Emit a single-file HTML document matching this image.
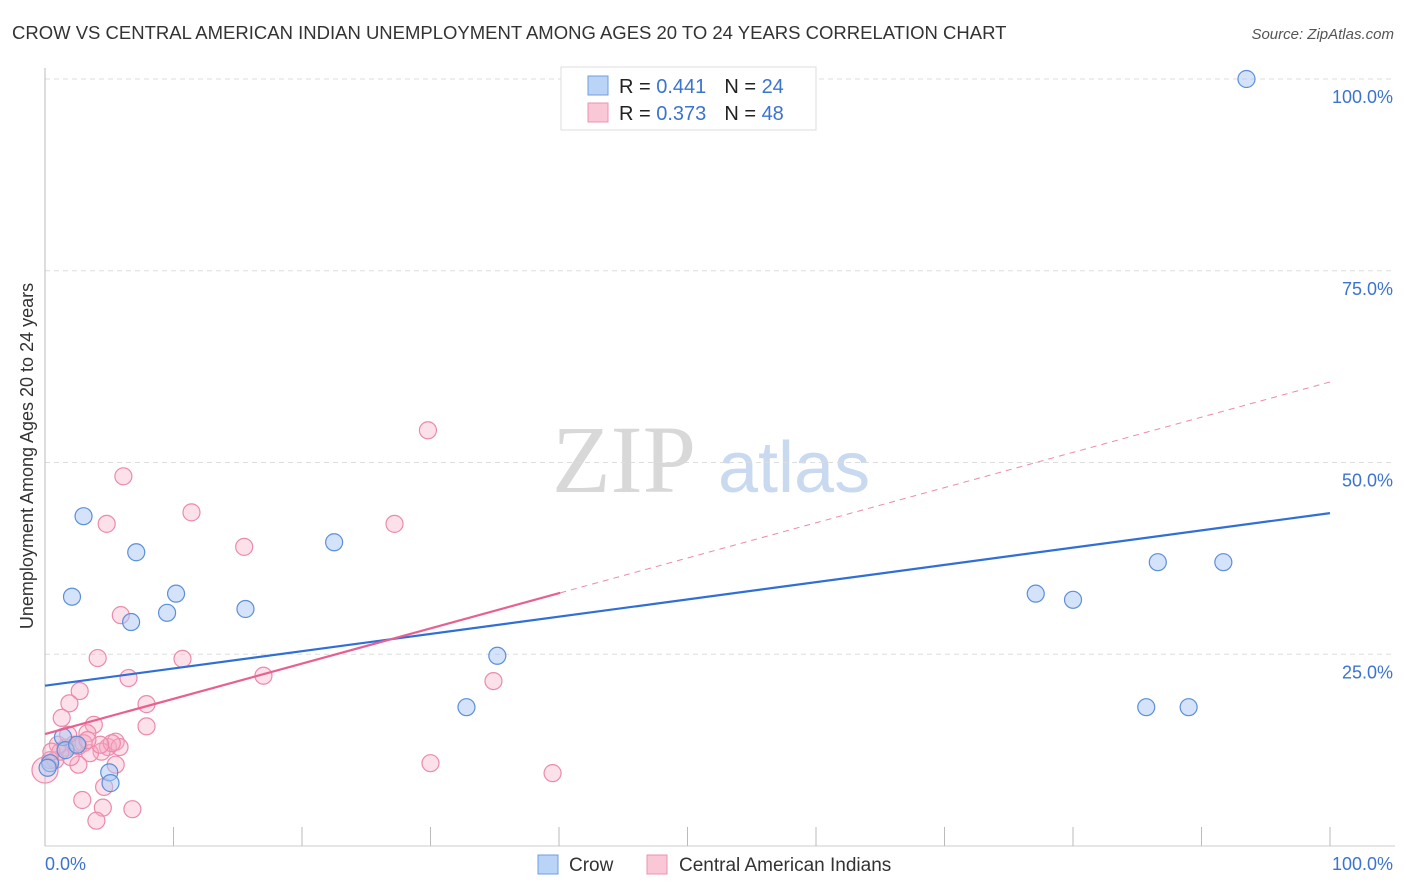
<!DOCTYPE html>
<html><head><meta charset="utf-8"><style>
body{margin:0;background:#fff;font-family:"Liberation Sans",sans-serif;}
svg{display:block}
</style></head><body>
<svg id="chart" width="1406" height="892" xmlns="http://www.w3.org/2000/svg" font-family="Liberation Sans, sans-serif">
<text x="12" y="39" font-size="18.5" fill="#333">CROW VS CENTRAL AMERICAN INDIAN UNEMPLOYMENT AMONG AGES 20 TO 24 YEARS CORRELATION CHART</text>
<text x="1394" y="39" font-size="15" fill="#555" font-style="italic" text-anchor="end">Source: ZipAtlas.com</text>
<g>
<text x="552" y="492" font-family="Liberation Serif, serif" font-size="96" fill="#d8d8d8">ZIP</text>
<text x="718" y="492" font-size="72" fill="#c9daf0">atlas</text>
</g>
<g id="grid"></g>
<g id="axes"></g>
<g id="points"></g>
<g id="trends"></g>
<text transform="translate(33,456) rotate(-90)" font-size="18" fill="#333" text-anchor="middle">Unemployment Among Ages 20 to 24 years</text>
<text x="45" y="870" font-size="18" fill="#3b73d1">0.0%</text>
<text x="1393" y="870" font-size="18" fill="#3b73d1" text-anchor="end">100.0%</text>
<g>
<rect x="561" y="67" width="255" height="63" fill="#fff" stroke="#ddd"/>
<rect x="588" y="76" width="20" height="19" fill="#b9d4f6" stroke="#6f9ee0"/>
<rect x="588" y="103" width="20" height="19" fill="#f9c7d6" stroke="#ec93b0"/>
<text x="619" y="93" font-size="20" fill="#222">R = <tspan fill="#3b73d1">0.441</tspan><tspan dx="18">N = </tspan><tspan fill="#3b73d1">24</tspan></text>
<text x="619" y="120" font-size="20" fill="#222">R = <tspan fill="#3b73d1">0.373</tspan><tspan dx="18">N = </tspan><tspan fill="#3b73d1">48</tspan></text>
</g>
<g>
<rect x="538" y="855" width="20" height="19" fill="#b9d4f6" stroke="#6f9ee0"/>
<text x="569" y="871" font-size="19" fill="#333">Crow</text>
<rect x="647" y="855" width="20" height="19" fill="#f9c7d6" stroke="#ec93b0"/>
<text x="679" y="871" font-size="19" fill="#333">Central American Indians</text>
</g>
</svg>
<script>
const crowX=[3.0,2.1,7.1,6.7,9.5,10.2,15.6,22.5,35.2,32.8,5.0,5.1,77.1,80.0,86.6,91.7,85.7,89.0,93.5,1.4,1.6,0.4,0.2,2.5];
const crowY=[43.0,32.5,38.3,29.2,30.4,32.9,30.9,39.6,24.8,18.1,9.6,8.2,32.9,32.1,37.0,37.0,18.1,18.1,100,14.2,12.5,10.8,10.2,13.2];
const caiX=[6.1,29.8,4.8,11.4,15.5,27.2,5.9,4.1,10.7,6.5,17.0,2.7,1.9,7.9,34.9,1.3,7.9,3.8,3.3,4.9,5.5,5.8,2.2,3.0,1.6,2.6,4.4,3.5,2.6,5.5,30.0,39.5,2.9,4.5,6.8,4.0,4.6,0.8,0.4,0.0,1.0,1.8,5.2,2.0,1.2,4.3,3.3,0.5];
const caiY=[48.2,54.2,42.0,43.5,39.0,42.0,30.1,24.5,24.4,21.9,22.2,20.2,18.6,18.5,21.5,16.7,15.6,15.8,14.7,12.9,13.6,12.9,13.2,13.4,12.8,13.0,12.3,12.1,10.6,10.6,10.8,9.5,6.0,5.0,4.8,3.3,7.7,11.2,11.2,9.9,13.2,14.5,13.4,11.6,12.3,13.2,13.8,12.3];
const yTicks=[25,50,75,100];
const yTickLabels=["25.0%","50.0%","75.0%","100.0%"];
const xTicks=[0,10,20,30,40,50,60,70,80,90,100];
const crowTrend=[20.9,43.4];
const caiTrend=[14.6,60.5];
const caiSolidEnd=40.1;

const NS="http://www.w3.org/2000/svg";
const X=v=>45+v*12.85;
const Y=v=>846-v*7.67;
function mk(tag,attrs,parent){const e=document.createElementNS(NS,tag);for(const k in attrs)e.setAttribute(k,attrs[k]);parent.appendChild(e);return e;}
const grid=document.getElementById('grid'),axes=document.getElementById('axes'),pts=document.getElementById('points'),tr=document.getElementById('trends');
yTicks.forEach((t,i)=>{
  const l=mk('line',{x1:45,x2:1395,y1:Y(t),y2:Y(t),stroke:'#ddd','stroke-dasharray':'5,4'},grid);
  
  
  const tx=mk('text',{x:1393,y:Y(t)+24,'font-size':18,fill:'#3b73d1','text-anchor':'end'},grid);
  tx.textContent=yTickLabels[i];
  
  
});
const ax=mk('line',{x1:45,x2:45,y1:68,y2:846,stroke:'#bbb'},axes);


const bx=mk('line',{x1:45,x2:1395,y1:846,y2:846,stroke:'#ccc'},axes);


xTicks.forEach(t=>{
  const l=mk('line',{x1:X(t),x2:X(t),y1:827,y2:846,stroke:'#bbb'},axes);
  
  
});
caiX.forEach((x,i)=>{
  const c=mk('circle',{cx:X(x),cy:Y(caiY[i]),r:(x===0?13:8.5),fill:'rgba(246,170,195,0.35)',stroke:'#ec8aab','stroke-width':1.2},pts);
  
  
});
crowX.forEach((x,i)=>{
  const c=mk('circle',{cx:X(x),cy:Y(crowY[i]),r:8.5,fill:'rgba(170,200,243,0.5)',stroke:'#5b8fd9','stroke-width':1.2},pts);
  
  
});
const bl=mk('line',{x1:X(0),y1:Y(crowTrend[0]),x2:X(100),y2:Y(crowTrend[1]),stroke:'#2f6fd6','stroke-width':2.2},tr);


const slope=(caiTrend[1]-caiTrend[0])/100;
const pe=caiTrend[0]+slope*caiSolidEnd;
const pl=mk('line',{x1:X(0),y1:Y(caiTrend[0]),x2:X(caiSolidEnd),y2:Y(pe),stroke:'#e8608f','stroke-width':2.2},tr);


const pd=mk('line',{x1:X(caiSolidEnd),y1:Y(pe),x2:X(100),y2:Y(caiTrend[1]),stroke:'#eb8aab','stroke-width':1,'stroke-dasharray':'6,5'},tr);


</script>
</body></html>
